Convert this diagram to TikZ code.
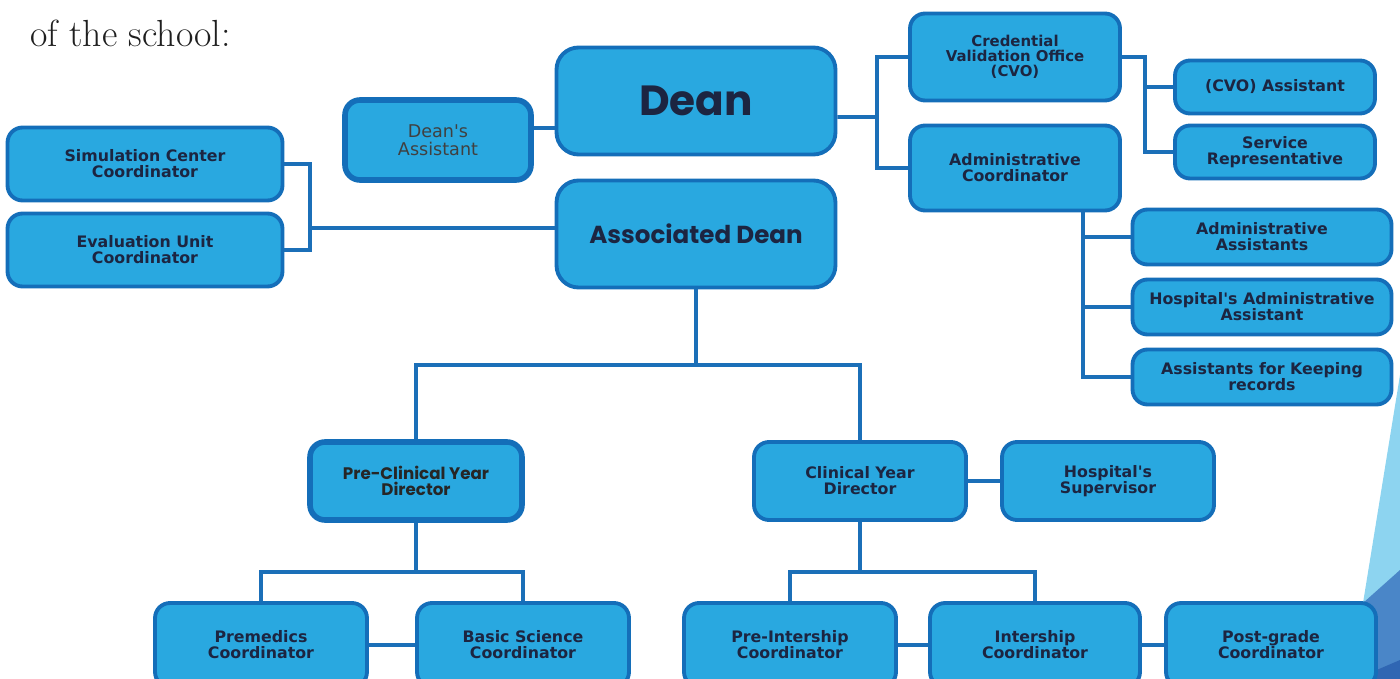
\documentclass[tikz,border=0pt]{standalone}
\usepackage{fontspec}
\newfontfamily\cajafont{DejaVu Sans}
\newfontfamily\jefefont{Poppins}
\usetikzlibrary{positioning}

\definecolor{relleno}{HTML}{29A8E0}
\definecolor{borde}{HTML}{146EB9}
\definecolor{linea}{HTML}{1B6FB8}
\definecolor{texto}{HTML}{1C2541}
\definecolor{celeste}{HTML}{8DD4F0}
\definecolor{azulmedio}{HTML}{4A86C8}
\definecolor{azuloscuro}{HTML}{2F66B3}

\begin{document}
\begin{tikzpicture}[x=0.02cm,y=-0.02cm,
		caja/.style={rectangle,draw=borde,fill=relleno,line width=2.2pt,rounded corners=0.3cm,
			align=center,inner sep=0pt,text=texto,font=\cajafont\bfseries\fontsize{9}{9}\selectfont},
		jefe/.style={caja,rounded corners=0.44cm,minimum width=5.58cm,minimum height=2.14cm},
		conector/.style={draw=linea,line width=2.2pt}]
		\useasboundingbox (0,0) rectangle (1400,679);
		\clip (0,0) rectangle (1400,679);

		% decoracion
		\fill[celeste] (1400,375) -- (1363,603) -- (1400,603) -- cycle;
		\fill[azulmedio] (1363,603) -- (1400,570) -- (1400,679) -- (1363,679) -- cycle;
		\fill[azuloscuro] (1372,672) -- (1400,660) -- (1400,679) -- (1372,679) -- cycle;

		\node[anchor=base west,inner sep=0pt,text=black!88,font=\fontsize{21.5}{22}\selectfont] (intro) at (30,47) {of the school:};

		% direccion
		\node[jefe,font=\jefefont\bfseries\fontsize{24}{24}\selectfont] (dean) at (696,101) {Dean};
		\node[jefe,font=\jefefont\bfseries\fontsize{14}{14}\selectfont] (ad) at (696,234) {Associated Dean};
		\node[caja,line width=3.2pt,minimum width=3.72cm,minimum height=1.6cm,
			font=\cajafont\fontsize{10}{10}\selectfont,text=black!75] (da) at (438,140) {Dean's\\Assistant};

		\node[caja,minimum width=5.5cm,minimum height=1.46cm] (sim) at (145,164) {Simulation Center\\Coordinator};
		\node[caja,minimum width=5.5cm,minimum height=1.46cm] (eval) at (145,250) {Evaluation Unit\\Coordinator};

		\node[caja,minimum width=4.2cm,minimum height=1.74cm,font=\cajafont\bfseries\fontsize{8.5}{8.5}\selectfont] (cvo) at (1015,57) {Credential\\Validation Office\\(CVO)};
		\node[caja,minimum width=4.2cm,minimum height=1.7cm] (adm) at (1015,168) {Administrative\\Coordinator};
		\node[caja,minimum width=4.0cm,minimum height=1.06cm] (cvoa) at (1275,87) {(CVO) Assistant};
		\node[caja,minimum width=4.0cm,minimum height=1.06cm] (srv) at (1275,152) {Service\\Representative};
		\node[caja,minimum width=5.18cm,minimum height=1.1cm] (aa) at (1262,237) {Administrative\\Assistants};
		\node[caja,minimum width=5.18cm,minimum height=1.1cm] (haa) at (1262,307) {Hospital's Administrative\\Assistant};
		\node[caja,minimum width=5.18cm,minimum height=1.1cm] (rec) at (1262,377) {Assistants for Keeping\\records};

		% directores
		\node[caja,line width=3.2pt,minimum width=4.24cm,minimum height=1.56cm,
			font=\jefefont\bfseries\fontsize{9.5}{9.5}\selectfont,text=black!85] (pcd) at (416,481) {Pre-Clinical Year\\Director};
		\node[caja,minimum width=4.24cm,minimum height=1.56cm] (cyd) at (860,481) {Clinical Year\\Director};
		\node[caja,minimum width=4.24cm,minimum height=1.56cm] (hs) at (1108,481) {Hospital's\\Supervisor};

		% coordinadores
		\node[caja,minimum width=4.24cm,minimum height=1.68cm] (pre) at (261,645) {Premedics\\Coordinator};
		\node[caja,minimum width=4.24cm,minimum height=1.68cm] (bas) at (523,645) {Basic Science\\Coordinator};
		\node[caja,minimum width=4.24cm,minimum height=1.68cm] (pin) at (790,645) {Pre-Intership\\Coordinator};
		\node[caja,minimum width=4.2cm,minimum height=1.68cm] (int) at (1035,645) {Intership\\Coordinator};
		\node[caja,minimum width=4.2cm,minimum height=1.68cm] (pos) at (1271,645) {Post-grade\\Coordinator};

		% conectores
		\coordinate (jd) at (877,117);
		\coordinate (je) at (310,228);
		\coordinate (jc) at (1145,57);
		\coordinate (jx) at (1083,210);
		\coordinate (ja) at (696,365);
		\coordinate (jp) at (416,572);
		\coordinate (jq) at (860,572);

		\draw[conector] ([yshift=0.24cm]da.east) -- ([yshift=0.24cm]da.east -| dean.west);
		\draw[conector] ([yshift=-0.32cm]dean.east) -- (jd);
		\draw[conector] (cvo.west) -| (jd) |- (adm.west);
		\draw[conector] (cvo.east) -- (jc) |- (srv.west);
		\draw[conector] (cvoa.west) -| (jc);
		\draw[conector] (jx) |- (rec.west);
		\draw[conector] (aa.west) -| (jx);
		\draw[conector] (haa.west) -| (jx);
		\draw[conector] (sim.east) -| (je) |- (eval.east);
		\draw[conector] (je) -- (je -| ad.west);
		\draw[conector] (ad.south) -- (ja);
		\draw[conector] (pcd.north) |- (ja) -| (cyd.north);
		\draw[conector] (cyd) -- (hs);
		\draw[conector] (pcd.south) -- (jp);
		\draw[conector] (pre.north) |- (jp) -| (bas.north);
		\draw[conector] (cyd.south) -- (jq);
		\draw[conector] (pin.north) |- (jq) -| (int.north);
		\draw[conector] (pre) -- (bas);
		\draw[conector] (pin) -- (int);
		\draw[conector] (int) -- (pos);
	\end{tikzpicture}
\end{document}
